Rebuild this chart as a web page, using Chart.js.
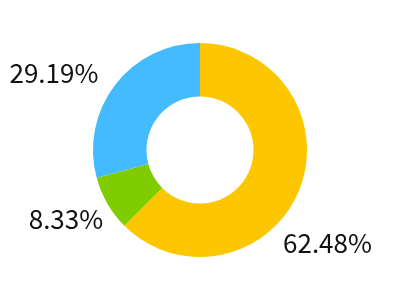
<!DOCTYPE html>
<html>
<head>
<meta charset="utf-8">
<script src="https://cdn.jsdelivr.net/npm/chart.js@4/dist/chart.umd.min.js"></script>
<style>
  html, body { margin: 0; padding: 0; background: #fff; }
  #wrap { width: 400px; height: 300px; position: relative; }
</style>
</head>
<body>
<div id="wrap"><canvas id="chart"></canvas></div>
<script>
const categories = ['A', 'B', 'C'];
const shares = [62.48, 8.33, 29.19];
const sliceColors = ['#FCC700', '#7FCC00', '#45BBFF'];
// label anchors, in units of outer radius from the centre
const labelAnchors = [
  { dx: 0.776, dy: 0.87, align: 'left' },
  { dx: -0.905, dy: 0.65, align: 'right' },
  { dx: -0.95, dy: -0.72, align: 'right' },
];

const outsideLabels = {
  id: 'outsideLabels',
  afterDraw(chart) {
    const ctx = chart.ctx;
    const meta = chart.getDatasetMeta(0);
    ctx.save();
    ctx.font = '26px "Noto Sans CJK SC"';
    ctx.fillStyle = '#111';
    ctx.textBaseline = 'middle';
    meta.data.forEach((arc, i) => {
      const a = labelAnchors[i];
      ctx.textAlign = a.align;
      ctx.fillText(shares[i].toFixed(2) + '%', arc.x + a.dx * arc.outerRadius, arc.y + a.dy * arc.outerRadius);
    });
    ctx.restore();
  },
};

new Chart(document.getElementById('chart'), {
  type: 'doughnut',
  data: {
    labels: categories,
    datasets: [{
      data: shares,
      backgroundColor: sliceColors,
      borderWidth: 0,
    }],
  },
  options: {
    responsive: true,
    maintainAspectRatio: false,
    animation: false,
    cutout: '50%',
    layout: { padding: { top: 43, bottom: 43 } },
    plugins: {
      legend: { display: false },
      tooltip: { enabled: false },
    },
  },
  plugins: [outsideLabels],
});
</script>
</body>
</html>
